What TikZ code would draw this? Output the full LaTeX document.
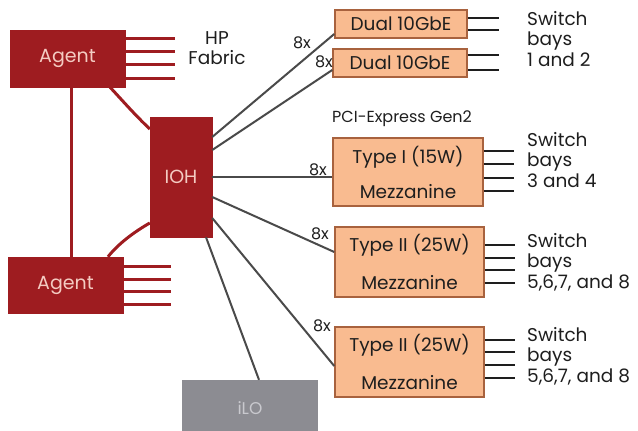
\documentclass[tikz,border=0pt]{standalone}
\usepackage{fontspec}
\setmainfont{Poppins}
\usetikzlibrary{calc}
\definecolor{hpred}{HTML}{9E1C20}
\definecolor{redtext}{HTML}{F4CBC2}
\definecolor{peach}{HTML}{F9BB90}
\definecolor{peachline}{HTML}{A8623E}
\definecolor{ilogrey}{HTML}{8C8C92}
\definecolor{ilotext}{HTML}{C9C9CE}
\definecolor{wire}{HTML}{4A4A4A}
\definecolor{ink}{HTML}{1E1E1E}
\tikzset{
  redbox/.style={draw=hpred, fill=hpred, inner sep=0pt, text=redtext, font=\fontsize{19}{21}\selectfont},
  cardbox/.style={draw=peachline, line width=1.5pt, fill=peach, inner sep=0pt, text=ink, font=\fontsize{18.5}{20}\selectfont, align=center},
  redpin/.style={draw=hpred, line width=3pt},
  blackpin/.style={draw=ink, line width=2.6pt},
  wireline/.style={draw=wire, line width=2pt},
  redwire/.style={draw=hpred, line width=3pt},
  lbl/.style={font=\fontsize{18.5}{20.5}\selectfont, text=ink, align=left, anchor=north west, inner sep=0pt},
  xlbl/.style={font=\fontsize{16}{17}\selectfont, text=ink, inner sep=0pt}
}
\begin{document}
\begin{tikzpicture}[x=1pt, y=-1pt]
\useasboundingbox[fill=white] (0,0) rectangle (638,431);

% main components
\node[redbox, minimum width=115pt, minimum height=57pt] (agent1) at (67.5,58.5) {Agent};
\node[redbox, minimum width=115pt, minimum height=56pt] (agent2) at (65.5,285) {Agent};
\node[redbox, minimum width=62pt, minimum height=120pt] (ioh) at (181,177) {IOH};

\node[cardbox, minimum width=132pt, minimum height=28pt] (dual1) at (401,24) {Dual 10GbE};
\node[cardbox, minimum width=134pt, minimum height=28pt] (dual2) at (400,63) {Dual 10GbE};
\node[cardbox, minimum width=150pt, minimum height=68pt] (t1) at (408,172) {Type I (15W)\\[15pt]Mezzanine};
\node[cardbox, minimum width=149pt, minimum height=70pt] (t2a) at (409.5,262) {Type II (25W)\\[18pt]Mezzanine};
\node[cardbox, minimum width=149pt, minimum height=70pt] (t2b) at (409.5,362) {Type II (25W)\\[18pt]Mezzanine};

\node[fill=ilogrey, minimum width=136pt, minimum height=56pt, inner sep=0pt, text=ilotext, font=\fontsize{17}{19}\selectfont] (ilo) at (250,408) {iLO};

% red connectors
\draw[redwire] (agent1.south -| 71,0) -- (agent2.north -| 71,0);
\draw[redwire] (agent1.south -| 110,0) .. controls (122,100) and (134,114) .. (ioh.west |- 0,129);
\draw[redwire] (agent2.north -| 108,0) .. controls (118,244) and (134,232) .. (ioh.west |- 0,223);

% agent pins
\foreach \y in {38,51,64,78} \draw[redpin] (agent1.east |- 0,\y) -- ++(50,0);
\foreach \y in {266,279,291,304} \draw[redpin] (agent2.east |- 0,\y) -- ++(48,0);

\node[lbl, align=center, anchor=north] (hpf) at (217,31) {HP\\Fabric};

% IOH connectors
\draw[wireline] (ioh.east |- 0,137) -- (dual1.west |- 0,34);
\draw[wireline] (ioh.east |- 0,150) -- (dual2.west |- 0,70);
\draw[wireline] (ioh.east |- 0,177) -- (t1.west |- 0,177);
\draw[wireline] (ioh.east |- 0,197) -- (t2a.west |- 0,252);
\draw[wireline] (ioh.east |- 0,218) -- (t2b.west |- 0,366);
\draw[wireline] (ioh.south -| 206,0) -- (ilo.north -| 259,0);

\node[xlbl] (x1) at (302,43) {8x};
\node[xlbl] (x2) at (324,62) {8x};
\node[xlbl] (x3) at (318,170) {8x};
\node[xlbl] (x4) at (320,234) {8x};
\node[xlbl] (x5) at (322,326) {8x};

\node[font=\fontsize{16}{17}\selectfont, text=ink, anchor=west, inner sep=0pt] (pcie) at (332,119) {PCI-Express Gen2};

% card pins
\foreach \y in {18,30} \draw[blackpin] (dual1.east |- 0,\y) -- ++(31,0);
\foreach \y in {55,70} \draw[blackpin] (dual2.east |- 0,\y) -- ++(31,0);
\foreach \y in {151,164,178,191} \draw[blackpin] (t1.east |- 0,\y) -- ++(30,0);
\foreach \y in {245,258,270,283} \draw[blackpin] (t2a.east |- 0,\y) -- ++(30,0);
\foreach \y in {340,352,365,378} \draw[blackpin] (t2b.east |- 0,\y) -- ++(30,0);

% switch bay labels
\node[lbl] (sb1) at (527,11) {Switch\\bays\\1 and 2};
\node[lbl] (sb2) at (527,132) {Switch\\bays\\3 and 4};
\node[lbl] (sb3) at (527,233) {Switch\\bays\\5,6,7, and 8};
\node[lbl] (sb4) at (527,327) {Switch\\bays\\5,6,7, and 8};
\end{tikzpicture}
\end{document}
